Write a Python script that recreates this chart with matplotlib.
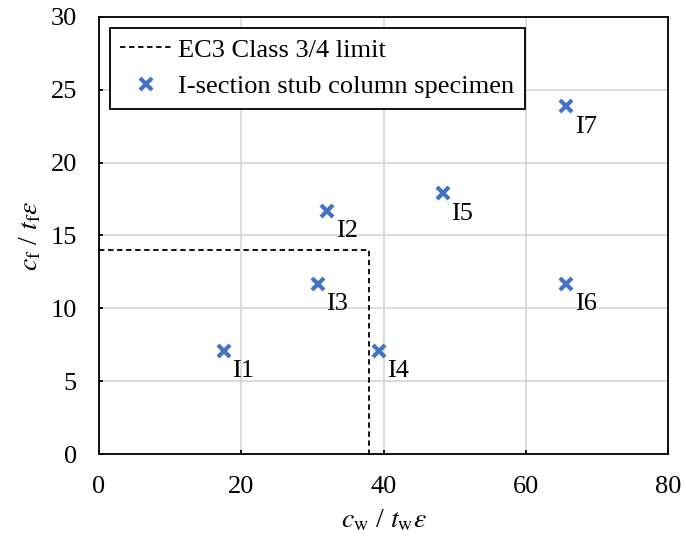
import numpy as np
import matplotlib.pyplot as plt

plt.rcParams['font.family'] = ['Liberation Serif', 'DejaVu Serif']
plt.rcParams['mathtext.fontset'] = 'stix'
plt.rcParams['font.size'] = 19

# specimen data
names = ['I1', 'I2', 'I3', 'I4', 'I5', 'I6', 'I7']
cw_tw = [17.6, 32.1, 30.8, 39.4, 48.3, 65.7, 65.7]
cf_tf = [7.1, 16.7, 11.7, 7.1, 17.9, 11.7, 23.9]

# EC3 class 3/4 limit
limit_x = [0, 38, 38]
limit_y = [14, 14, 0]

fig = plt.figure(figsize=(6.86, 5.41), dpi=100)
ax = fig.add_axes([0.1443, 0.1608, 0.8295, 0.8078])

ax.plot(limit_x, limit_y, color='black', linestyle=(0, (3, 2)), linewidth=1.3,
        label='EC3 Class 3/4 limit', zorder=3)
ax.plot(cw_tw, cf_tf, linestyle='none', marker='x', color='#4472C4',
        markersize=8, markeredgewidth=3, label='I-section stub column specimen', zorder=4)

for n, x, y in zip(names, cw_tw, cf_tf):
    ax.annotate(n, (x, y), xytext=(6, -7), textcoords='offset points',
                ha='left', va='top', fontsize=19)

ax.set_xlim(0, 80)
ax.set_ylim(0, 30)
ax.set_xticks(np.arange(0, 81, 20))
ax.set_yticks(np.arange(0, 31, 5))
ax.grid(True, color='#d9d9d9', linewidth=1.3)
ax.set_axisbelow(True)
for s in ax.spines.values():
    s.set_linewidth(1.3)
ax.tick_params(axis='x', direction='in', length=3, width=1.3, pad=16)
ax.tick_params(axis='y', direction='in', length=3, width=1.3, pad=16)

ax.set_xlabel(r'$c_\mathrm{w}$ / $t_\mathrm{w}\varepsilon$', fontsize=20, labelpad=7)
ax.set_ylabel(r'$c_\mathrm{f}$ / $t_\mathrm{f}\varepsilon$', fontsize=20, labelpad=5)

leg = ax.legend(loc='upper left', frameon=True, fancybox=False, framealpha=1,
                edgecolor='black', handlelength=2, handletextpad=0.2,
                borderaxespad=0.4, fontsize=19)
leg.get_frame().set_linewidth(1.3)

plt.savefig('out.png')
